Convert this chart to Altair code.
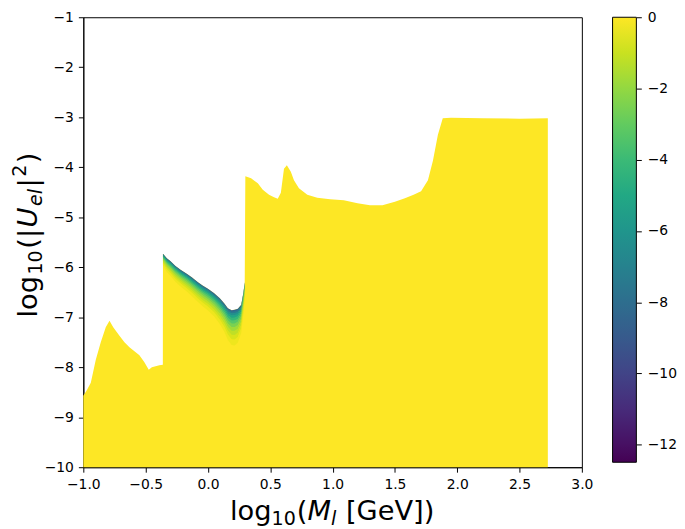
import altair as alt
import pandas as pd

# ---- upper boundary of the allowed region (log10 M, log10 |U|^2) ----
sec1_x = [-1.0, -0.97, -0.94, -0.90, -0.86, -0.82, -0.79, -0.76, -0.71, -0.67,
          -0.63, -0.59, -0.55, -0.51, -0.475, -0.45, -0.42, -0.39, -0.362]
sec1_y = [-8.57, -8.45, -8.31, -7.85, -7.50, -7.20, -7.07, -7.20, -7.37, -7.50,
          -7.60, -7.68, -7.76, -7.90, -8.05, -8.00, -7.98, -7.96, -7.95]

sec2_x = [-0.361, -0.33, -0.30, -0.263, -0.22, -0.17, -0.13, -0.08, -0.04, 0.0,
          0.05, 0.095, 0.13, 0.16, 0.19, 0.214, 0.24, 0.267, 0.285, 0.295]
sec2_y = [-5.73, -5.82, -5.88, -5.97, -6.05, -6.13, -6.20, -6.30, -6.37, -6.43,
          -6.52, -6.62, -6.72, -6.82, -6.86, -6.85, -6.83, -6.75, -6.50, -6.30]
sec2_fade = [0.22, 0.26, 0.28, 0.30, 0.32, 0.34, 0.36, 0.38, 0.40, 0.42,
             0.45, 0.50, 0.55, 0.62, 0.68, 0.70, 0.66, 0.55, 0.40, 0.30]

sec3_x = [0.300, 0.346, 0.40, 0.44, 0.49, 0.53, 0.56, 0.585, 0.61, 0.633,
          0.665, 0.69, 0.73, 0.797, 0.877, 0.98, 1.09, 1.2, 1.3, 1.4,
          1.5, 1.58, 1.65, 1.71, 1.765, 1.805, 1.845, 1.884, 1.95, 2.2,
          2.5, 2.727]
sec3_y = [-4.18, -4.22, -4.32, -4.45, -4.55, -4.60, -4.63, -4.51, -4.03, -3.96,
          -4.09, -4.26, -4.42, -4.55, -4.61, -4.64, -4.66, -4.72, -4.76, -4.76,
          -4.69, -4.62, -4.55, -4.48, -4.26, -3.87, -3.35, -3.02, -3.01, -3.02,
          -3.03, -3.02]

y_floor = -10.0

# colour bands just below the boundary in the middle section
band_fracs = [0.0, 0.04, 0.09, 0.15, 0.22, 0.30, 0.39, 0.49, 0.60, 0.72, 0.85, 1.0]
band_vals = [-8.5, -7.5, -6.3, -5.2, -4.2, -3.3, -2.5, -1.8, -1.2, -0.7, -0.3]

x_ticks = [-1.0, -0.5, 0.0, 0.5, 1.0, 1.5, 2.0, 2.5, 3.0]
y_ticks = [-10, -9, -8, -7, -6, -5, -4, -3, -2, -1]
cbar_ticks = [0, -2, -4, -6, -8, -10, -12]

# ---- tables ----
fill_df = pd.DataFrame({
    "x": sec1_x + sec2_x + sec3_x,
    "y": sec1_y + sec2_y + sec3_y,
})
fill_df["y0"] = y_floor

rows = []
for k, v in enumerate(band_vals):
    for xi, yi, d in zip(sec2_x, sec2_y, sec2_fade):
        rows.append({"x": xi, "top": yi - d * band_fracs[k],
                     "bot": yi - d * band_fracs[k + 1] - 0.015,
                     "v": v, "band": k})
band_df = pd.DataFrame(rows)
cbar_df = pd.DataFrame({"t": cbar_ticks})

W, H = 503, 454
OX, OY = 84, 15          # page position of the plot origin
MINUS = "\u2212"
lab_expr = f"replace(datum.label, '-', '{MINUS}')"

xscale = alt.Scale(domain=[-1, 3], nice=False, zero=False)
yscale = alt.Scale(domain=[-10, -1], nice=False, zero=False)

fill = alt.Chart(fill_df).mark_area(color="#fde725").encode(
    x=alt.X("x:Q", scale=xscale,
            axis=alt.Axis(values=x_ticks, format=".1f", labelExpr=lab_expr,
                          title=None, labelPadding=5, labelFlush=False)),
    y=alt.Y("y:Q", scale=yscale,
            axis=alt.Axis(values=y_ticks, labelExpr=lab_expr, orient="left",
                          title=None, labelPadding=5)),
    y2="y0:Q",
)

bands = alt.Chart(band_df).mark_area().encode(
    x=alt.X("x:Q", scale=xscale),
    y=alt.Y("top:Q", scale=yscale),
    y2="bot:Q",
    detail="band:N",
    color=alt.Color("v:Q",
                    scale=alt.Scale(scheme="viridis", domain=[-12.5, 0]),
                    legend=alt.Legend(orient="none", legendX=534, legendY=0,
                                      direction="vertical", title=None,
                                      gradientLength=449, gradientThickness=24,
                                      gradientStrokeColor="black",
                                      gradientStrokeWidth=1,
                                      labelExpr="''", labelOpacity=0)),
)

cbar = alt.Chart(cbar_df).mark_point(opacity=0).encode(
    y=alt.Y("t:Q", scale=alt.Scale(domain=[-12.63, 0], nice=False, zero=False),
            axis=alt.Axis(orient="right", offset=55, values=cbar_ticks,
                          domain=False, title=None, labelExpr=lab_expr,
                          labelPadding=6)),
)

# ---- axis titles with sub/superscripts, built from text pieces ----
ADV = {"l": 0.278, "o": 0.612, "g": 0.635, "1": 0.636, "0": 0.636,
       "(": 0.390, ")": 0.390, " ": 0.318, "[": 0.390, "]": 0.390,
       "G": 0.775, "e": 0.615, "V": 0.684, "M": 0.863, "|": 0.337,
       "U": 0.732, "2": 0.636}


def tw(s, size):
    return sum(ADV.get(c, 0.6) for c in s) * size


dummy = pd.DataFrame({"d": [0]})
BIG, SMALL = 27.5, 19.25
SPACE = ADV[" "] * BIG


def piece(txt, px, py, size, angle=0, italic=False):
    return alt.Chart(dummy).mark_text(
        text=txt, align="left", baseline="alphabetic", font="DejaVu Sans",
        fontSize=size, fontStyle="italic" if italic else "normal",
        angle=angle, color="black",
    ).encode(x=alt.value(px - OX), y=alt.value(py - OY))


# x title: log10(M_l [GeV])
x_parts = [("log", BIG, 0, False, 0), ("10", SMALL, 5, False, 1),
           ("(", BIG, 0, False, 0), ("M", BIG, 0, True, 0),
           ("l", SMALL, 5, True, 1 + SPACE), ("[GeV])", BIG, 0, False, 0)]
title_layers = []
cx = 232
for txt, sz, shift, it, gap in x_parts:
    title_layers.append(piece(txt, cx, 522 + shift, sz, 0, it))
    cx += tw(txt, sz) + gap

# y title: log10(|U_el|^2), rotated, reading upward
y_parts = [("log", BIG, 0, False, 1.5), ("10", SMALL, 5, False, 1.5),
           ("(|", BIG, 0, False, 1.5), ("U", BIG, 0, True, 1.5),
           ("el", SMALL, 5, True, 1.5), ("|", BIG, 0, False, 1.5),
           ("2", SMALL, -11, False, 1.5), (")", BIG, 0, False, 0)]
cy = 318
for txt, sz, shift, it, gap in y_parts:
    title_layers.append(piece(txt, 37 + shift, cy, sz, 270, it))
    cy -= tw(txt, sz) + gap

chart = alt.layer(alt.layer(fill, bands, *title_layers), cbar).resolve_scale(
    y="independent"
).properties(
    width=W, height=H,
    autosize=alt.AutoSizeParams(type="none"),
    padding={"left": 76, "top": 7, "right": 96, "bottom": 60},
).configure_view(
    stroke="black", strokeWidth=1
).configure_axis(
    grid=False, domainColor="black", tickColor="black", labelColor="black",
    labelFont="DejaVu Sans", labelFontSize=14, tickSize=5, domainWidth=1,
    tickWidth=1,
)

chart.save("out.html", embed_options={"renderer": "svg", "actions": False})
